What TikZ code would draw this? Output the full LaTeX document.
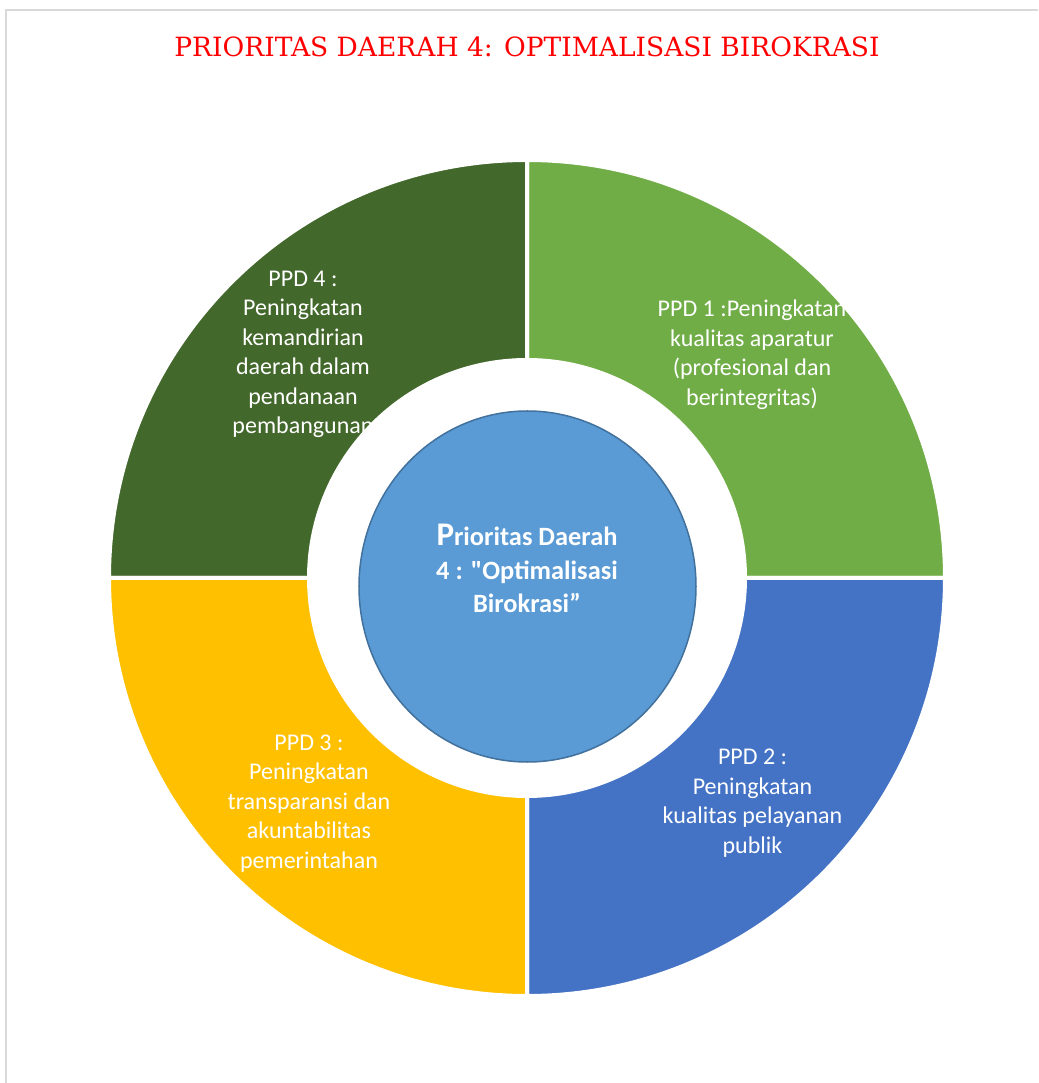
\documentclass[tikz,border=0pt]{standalone}
\usepackage{fontspec}
\setmainfont{Carlito}
\newfontfamily\titlefont{DejaVu Serif}
\newfontfamily\hubfont{Carlito}[Ligatures=TeXOff]
\usetikzlibrary{positioning}

\definecolor{ppdone}{HTML}{70AD47}
\definecolor{ppdtwo}{HTML}{4472C4}
\definecolor{ppdthree}{HTML}{FFC000}
\definecolor{ppdfour}{HTML}{43682B}
\definecolor{hubfill}{HTML}{5B9BD5}
\definecolor{hubline}{HTML}{41719C}
\definecolor{framegray}{HTML}{D9D9D9}
\definecolor{titlered}{HTML}{FF0000}

\begin{document}
\begin{tikzpicture}[x=1pt, y=1pt,
    wedge/.style={draw=white, line width=4pt},
    ppdtext/.style={text=white, align=center, font=\fontsize{24}{29.5}\selectfont},
    hubtext/.style={text=white, align=center, font=\hubfont\bfseries\fontsize{26.4}{33.5}\selectfont}]

    \useasboundingbox (-527,-505) rectangle (511,578);

    %% Frame
    \draw[framegray, line width=2.5pt] (-521,-505) -- (-521,568) -- (511,568);

    % Title
    \node[text=titlered, font=\titlefont\fontsize{26.5}{30}\selectfont] (title) at (0,531)
        {PRIORITAS DAERAH 4: OPTIMALISASI BIROKRASI};

    %% Ring

    % Wedges
    \fill[ppdone]   (0,0) -- (418,0) arc (0:90:418) -- (0,218) arc (90:0:218) -- cycle;
    \fill[ppdfour]  (0,0) -- (0,418) arc (90:180:418) -- (-218,0) arc (180:90:218) -- cycle;
    \fill[ppdthree] (0,0) -- (-418,0) arc (180:270:418) -- (0,-218) arc (270:180:218) -- cycle;
    \fill[ppdtwo]   (0,0) -- (0,-418) arc (270:360:418) -- (218,0) arc (360:270:218) -- cycle;
    \foreach \a in {0,90,180,270} {
        \draw[wedge] (\a:218) -- (\a:418) arc (\a:\a+90:418) -- (\a+90:218) arc (\a+90:\a:218) -- cycle;
    }
    \fill[white] (0,0) circle (218);

    % Labels
    \node[ppdtext] (ppd1) at (225,223.5)
        {PPD 1 :Peningkatan\\kualitas aparatur\\(profesional dan\\berintegritas)};
    \node[ppdtext] (ppd2) at (225.5,-225)
        {PPD 2 :\\Peningkatan\\kualitas pelayanan\\publik};
    \node[ppdtext] (ppd3) at (-218,-225.5)
        {PPD 3 :\\Peningkatan\\transparansi dan\\akuntabilitas\\pemerintahan};
    \node[ppdtext] (ppd4) at (-224,223.5)
        {PPD 4 :\\Peningkatan\\kemandirian\\daerah dalam\\pendanaan\\pembangunan};

    %% Centre
    \draw[fill=hubfill, draw=hubline, line width=1.5pt] (0.5,-8.5) ellipse (168.5 and 175.5);
    \node[hubtext] (hub) at (0,9.5)
        {{\fontsize{33}{33.5}\selectfont P}rioritas Daerah\\4 : "Optimalisasi\\Birokrasi”};

\end{tikzpicture}
\end{document}
